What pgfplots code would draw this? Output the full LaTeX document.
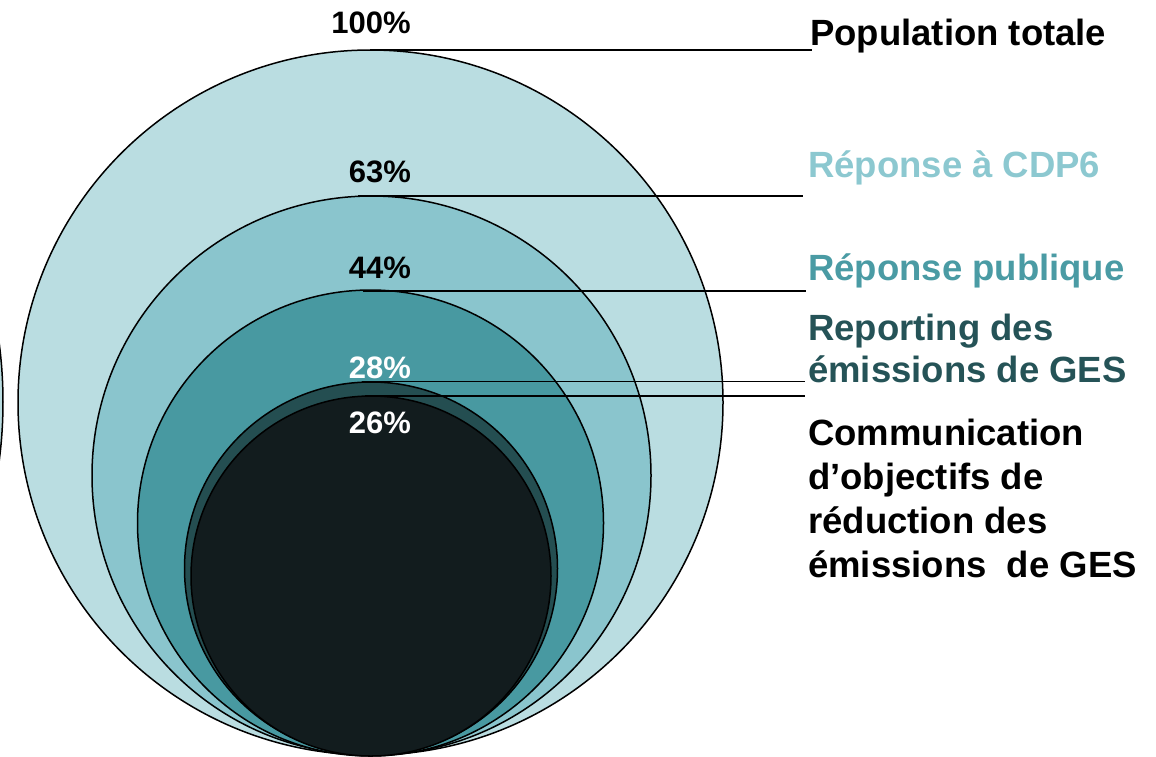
\documentclass[border=0pt]{standalone}
\usepackage{fontspec}
\setmainfont{Liberation Sans}
\usepackage{pgfplots}
\pgfplotsset{compat=1.18}
\definecolor{cA}{HTML}{BADDE1}
\definecolor{cB}{HTML}{8AC5CD}
\definecolor{cC}{HTML}{4899A1}
\definecolor{cD}{HTML}{244E51}
\definecolor{cE}{HTML}{121C1E}
\definecolor{tB}{HTML}{8CC8D0}
\definecolor{tC}{HTML}{4A9BA4}
\definecolor{tD}{HTML}{255357}
\begin{document}
\begin{tikzpicture}
\begin{axis}[
  scale only axis, width=1156pt, height=756pt,
  xmin=0, xmax=1156, ymin=0, ymax=756, y dir=reverse,
  hide axis, clip marker paths=true,
]
% partial circle cut by the left edge
\begin{scope}
\pgfinterruptboundingbox
\clip (rel axis cs:0,0) rectangle (rel axis cs:1,1);
\draw[fill=cA, draw=black, line width=1.5pt] (axis cs:-449,402) circle[radius=452];
\endpgfinterruptboundingbox
\end{scope}
% circles: centre (x,y), radius in units (1 unit = 1pt)
\addplot[only marks, mark=*, mark size=352.5, mark options={fill=cA, draw=black, line width=1.5pt}] coordinates {(370.5,402.5)};
\addplot[only marks, mark=*, mark size=279.5, mark options={fill=cB, draw=black, line width=1.5pt}] coordinates {(371.5,475.5)};
\addplot[only marks, mark=*, mark size=233, mark options={fill=cC, draw=black, line width=1.5pt}] coordinates {(370.5,523)};
\addplot[only marks, mark=*, mark size=186.5, mark options={fill=cD, draw=black, line width=1.5pt}] coordinates {(371,568.5)};
\addplot[only marks, mark=*, mark size=180, mark options={fill=cE, draw=black, line width=1.5pt}] coordinates {(371,576)};
% leader lines
\addplot[black, line width=1.3pt] coordinates {(370,50) (812,50)};
\addplot[black, line width=1.3pt] coordinates {(358,196) (803,196)};
\addplot[black, line width=1.3pt] coordinates {(363,291) (806,291)};
\addplot[black, line width=1.3pt] coordinates {(362,381.5) (805,381.5)};
\addplot[black, line width=1.3pt] coordinates {(365,396) (805,396)};
% percentages
\node[anchor=base, font=\fontsize{31}{36}\selectfont\bfseries, text=black, inner sep=0pt] at (axis cs:371,33) {100\%};
\node[anchor=base, font=\fontsize{31}{36}\selectfont\bfseries, text=black, inner sep=0pt] at (axis cs:380,182) {63\%};
\node[anchor=base, font=\fontsize{31}{36}\selectfont\bfseries, text=black, inner sep=0pt] at (axis cs:380,278) {44\%};
\node[anchor=base, font=\fontsize{31}{36}\selectfont\bfseries, text=white, inner sep=0pt] at (axis cs:380,378) {28\%};
\node[anchor=base, font=\fontsize{31}{36}\selectfont\bfseries, text=white, inner sep=0pt] at (axis cs:380,433) {26\%};
% labels
\node[anchor=base west, font=\fontsize{36.5}{44}\selectfont\bfseries, text=black, inner sep=0pt] at (axis cs:810,45) {Population totale};
\node[anchor=base west, font=\fontsize{36.5}{44}\selectfont\bfseries, text=tB, inner sep=0pt] at (axis cs:808,177) {Réponse à CDP6};
\node[anchor=base west, font=\fontsize{36.5}{44}\selectfont\bfseries, text=tC, inner sep=0pt] at (axis cs:808,280) {Réponse publique};
\node[anchor=base west, font=\fontsize{36.5}{42}\selectfont\bfseries, text=tD, inner sep=0pt, align=left] at (axis cs:808,382) {Reporting des\\émissions de GES};
\node[anchor=base west, font=\fontsize{36.5}{44}\selectfont\bfseries, text=black, inner sep=0pt, align=left] at (axis cs:808,577) {Communication\\d’objectifs de\\réduction des\\émissions \ de GES};
\path (rel axis cs:0,0) (rel axis cs:1,1);
\end{axis}
\end{tikzpicture}
\end{document}
